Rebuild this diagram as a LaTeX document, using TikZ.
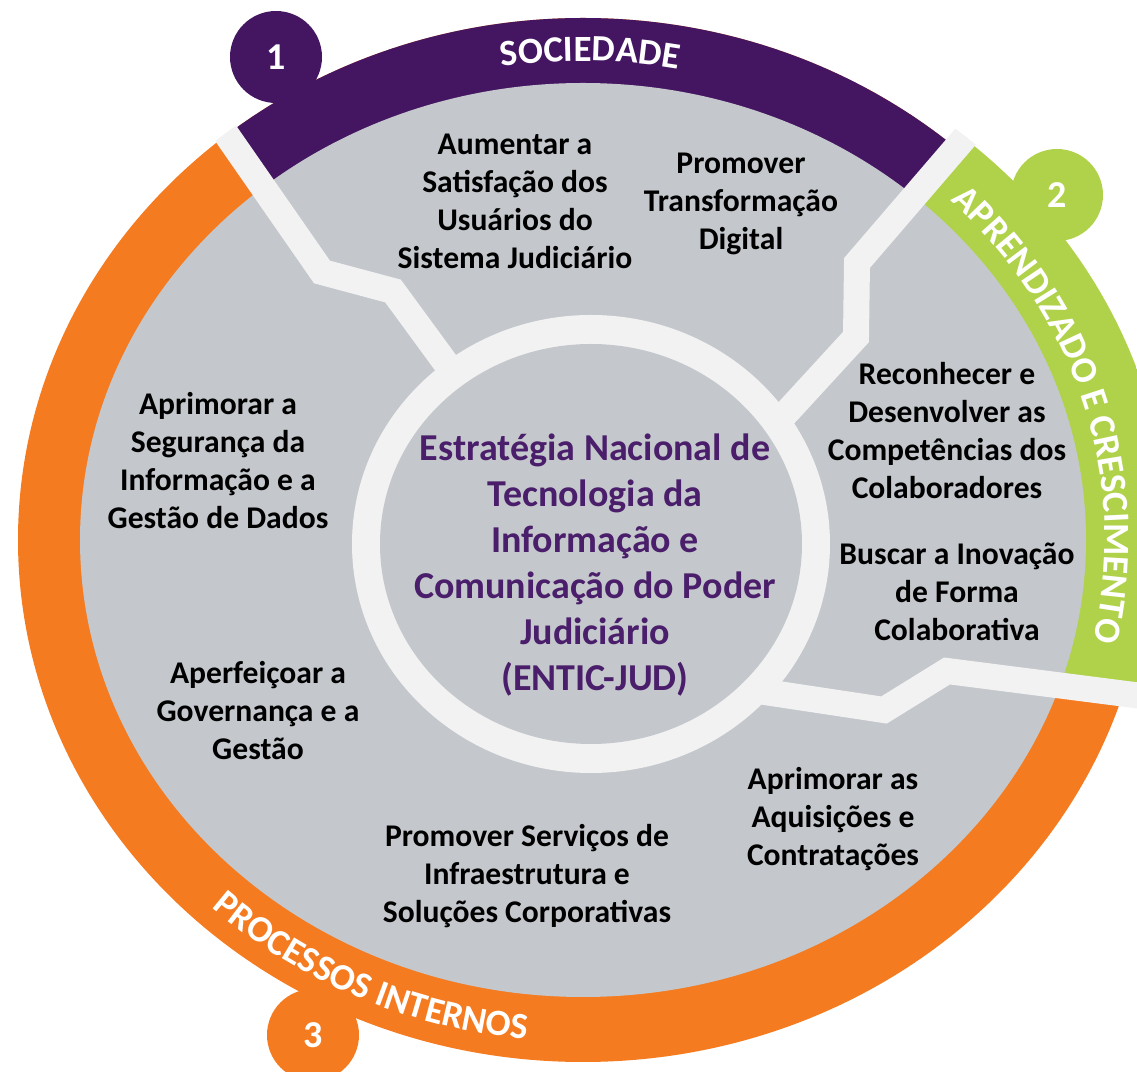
\documentclass[tikz,border=0pt]{standalone}
\usepackage{fontspec}
\setmainfont{Carlito}
\usetikzlibrary{decorations.text,calc}
\definecolor{purp}{RGB}{68,21,97}
\definecolor{orng}{RGB}{244,123,32}
\definecolor{grn}{RGB}{176,210,74}
\definecolor{gry}{RGB}{196,200,204}
\definecolor{sep}{RGB}{242,242,242}
\definecolor{ctext}{RGB}{74,30,106}
\tikzset{
 lbl/.style={align=center, font=\bfseries\fontsize{15.8}{19}\selectfont, text=black},
 ctr/.style={align=center, font=\bfseries\fontsize{19}{23}\selectfont, text=ctext},
 badge/.style={circle, minimum size=46pt, inner sep=0pt, font=\bfseries\fontsize{19}{19}\selectfont, text=white},
 sepline/.style={draw=sep, line width=13pt, line join=miter},
}
\def\ringfont{\bfseries\fontsize{18.5}{18.5}\selectfont}
\begin{document}
\begin{tikzpicture}[x=0.5pt,y=0.5pt]
\useasboundingbox (0,0) rectangle (1137,1072);
\coordinate (C) at (583,532);
\coordinate (M) at (591,528);
% coloured ring
\begin{scope}
 \clip (C) ellipse[x radius=565, y radius=522];
 \fill[orng] (C) ellipse[x radius=600, y radius=600];
 \fill[purp] (322,800) -- (37,1211) -- (37,1400) -- (1166,1400) -- (1166,1166) -- (857,809) -- cycle;
\end{scope}
\begin{scope}
 \clip (C) ellipse[x radius=585, y radius=530];
 \fill[grn] (857,809) -- (1166,1166) -- (1600,1166) -- (1600,318) -- (947,401) -- cycle;
\end{scope}
\fill[gry] (C) ellipse[x radius=503, y radius=457];
% badges
\node[badge, fill=purp] (b1) at (276,1015) {1};
\node[badge, fill=grn] (b2) at (1057,877) {2};
\node[badge, fill=orng] (b3) at (313,37) {3};
% separators
\coordinate (u0) at (190,990);
\coordinate (u1) at (322,800);
\coordinate (u2) at (393,781);
\coordinate (u3) at (445,710);
\coordinate (u4) at (475,670);
\coordinate (r0) at (1010,987);
\coordinate (r1) at (857,809);
\coordinate (r2) at (856,735);
\coordinate (r3) at (789,662);
\coordinate (r4) at (765,637);
\coordinate (s0) at (745,383);
\coordinate (s1) at (884,362);
\coordinate (s2) at (947,401);
\coordinate (s3) at (1220,366);
\begin{scope}
 \clip (C) ellipse[x radius=567, y radius=524];
 \draw[sepline] (u0) -- (u1) -- (u2) -- (u3) -- (u4);
\end{scope}
\begin{scope}
 \clip (C) ellipse[x radius=587, y radius=532];
 \draw[sepline] (r0) -- (r1) -- (r2) -- (r3) -- (r4);
 \draw[sepline] (s0) -- (s1) -- (s2) -- (s3);
\end{scope}
% central circle
\fill[sep] (M) ellipse[x radius=239, y radius=229];
\fill[gry] (M) ellipse[x radius=211, y radius=200];
\node[ctr] (centre) at (595,507) {Estratégia Nacional de\\Tecnologia da\\Informação e\\Comunicação do Poder\\Judiciário\\(ENTIC-JUD)};
% objectives
\node[lbl] (aum) at (515,871) {Aumentar a\\Satisfação dos\\Usuários do\\Sistema Judiciário};
\node[lbl] (prom) at (741,868) {Promover\\Transformação\\Digital};
\node[lbl] (recon) at (947,641) {Reconhecer e\\Desenvolver as\\Competências dos\\Colaboradores};
\node[lbl] (busc) at (957,480) {Buscar a Inovação\\de Forma\\Colaborativa};
\node[lbl] (aquis) at (833,253) {Aprimorar as\\Aquisições e\\Contratações};
\node[lbl] (serv) at (527,196) {Promover Serviços de\\Infraestrutura e\\Soluções Corporativas};
\node[lbl] (gov) at (258,361) {Aperfeiçoar a\\Governança e a\\Gestão};
\node[lbl] (seg) at (218,611) {Aprimorar a\\Segurança da\\Informação e a\\Gestão de Dados};
% ring titles
\begin{scope}[shift={(C)}]
 \path[decorate,decoration={text along path, text color=white, text align=center, text={|\ringfont|SOCIEDADE}}]
   (111:523 and 479) arc[start angle=111, end angle=67.4, x radius=523, y radius=479];
 \path[decorate,decoration={text along path, text color=white, text align=center, text={|\ringfont|APRENDIZADO E CRESCIMENTO}}]
   (48:522 and 478) arc[start angle=48, end angle=-15, x radius=522, y radius=478];
 \path[decorate,decoration={text along path, text color=white, text align=center, text={|\ringfont|PROCESSOS INTERNOS}}]
   (222:546 and 502) arc[start angle=222, end angle=269, x radius=546, y radius=502];
\end{scope}
\end{tikzpicture}
\end{document}
